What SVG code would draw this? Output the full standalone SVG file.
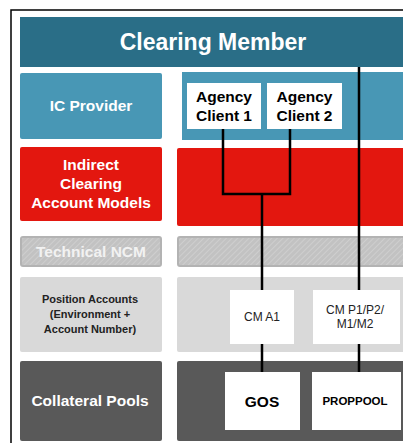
<svg xmlns="http://www.w3.org/2000/svg" width="403" height="443" viewBox="0 0 403 443">
<defs>
<pattern id="hatch" width="4" height="4" patternUnits="userSpaceOnUse" patternTransform="rotate(45)">
<rect width="4" height="4" fill="#c2c2c2"/>
<line x1="0" y1="0" x2="0" y2="4" stroke="#d2d2d2" stroke-width="1.5"/>
</pattern>
<style>
text{font-family:"Liberation Sans",Arial,sans-serif;text-anchor:middle}
.b{font-weight:bold}
.w{fill:#ffffff}
.k{fill:#000000}
.cm{fill:#2a6e87}
.ic{fill:#4897b5}
.red{fill:#e3170f}
.tn{fill:url(#hatch);stroke:#b3b3b3;stroke-width:2}
.pa{fill:#d9d9d9}
.dk{fill:#595959}
.box{fill:#ffffff}
.con{stroke:#000;stroke-width:2.5;fill:none;stroke-linecap:butt;stroke-linejoin:miter}
</style>
</defs>
<rect width="403" height="443" fill="#ffffff"/>
<rect x="11" y="10" width="420" height="460" fill="none" stroke="#000" stroke-width="1.5"/>
<g id="clearing-member">
<rect class="cm" x="20" y="17" width="390" height="50"/>
<text class="b w" x="213" y="50" font-size="23">Clearing Member</text>
</g>
<g id="row-labels">
<g id="ic-provider"><rect class="ic" x="20" y="73" width="142" height="66" rx="2"/><text class="b w" x="91" y="111" font-size="15.5">IC Provider</text></g>
<g id="icam"><rect class="red" x="20" y="147" width="142" height="74" rx="2"/>
<text class="b w" font-size="15.5"><tspan x="91" y="170">Indirect</tspan><tspan x="91" y="189">Clearing</tspan><tspan x="91" y="208">Account Models</tspan></text></g>
<g id="technical-ncm"><rect class="tn" x="21" y="237" width="140" height="29" rx="2"/><text class="b" fill="#f2f2f2" x="91" y="257" font-size="15.5">Technical NCM</text></g>
<g id="position-accounts"><rect class="pa" x="20" y="277" width="142" height="75" rx="2"/>
<text class="b" fill="#222" font-size="11"><tspan x="90" y="303">Position Accounts</tspan><tspan x="90" y="318">(Environment +</tspan><tspan x="90" y="333">Account Number)</tspan></text></g>
<g id="collateral-pools"><rect class="dk" x="20" y="361" width="142" height="80" rx="2"/><text class="b w" x="90" y="406" font-size="15.5">Collateral Pools</text></g>
</g>
<g id="panels">
<rect class="ic" x="182" y="72" width="230" height="68"/>
<rect class="red" x="177" y="148" width="235" height="78" rx="2"/>
<rect class="tn" x="178" y="237" width="235" height="29" rx="2"/>
<rect class="pa" x="177" y="277" width="235" height="75" rx="2"/>
<rect class="dk" x="177" y="361" width="235" height="80" rx="2"/>
</g>
<g id="connectors">
<path class="con" d="M359 67V372"/>
<path class="con" d="M223 129V194H290V129"/>
<path class="con" d="M262 194V372"/>
</g>
<g id="agency-client-1"><rect class="box" x="187" y="83" width="74" height="46"/><text class="b k" font-size="15.5"><tspan x="224" y="102">Agency</tspan><tspan x="224" y="121">Client 1</tspan></text></g>
<g id="agency-client-2"><rect class="box" x="267" y="83" width="75" height="46"/><text class="b k" font-size="15.5"><tspan x="304.5" y="102">Agency</tspan><tspan x="304.5" y="121">Client 2</tspan></text></g>
<g id="cm-a1"><rect class="box" x="230" y="290" width="64" height="54"/><text fill="#222" x="262" y="321" font-size="12">CM A1</text></g>
<g id="cm-p1"><rect class="box" x="313" y="290" width="87" height="54"/><text fill="#222" font-size="12"><tspan x="355" y="314">CM P1/P2/</tspan><tspan x="355" y="328">M1/M2</tspan></text></g>
<g id="gos"><rect class="box" x="225" y="372" width="75" height="58"/><text class="b k" x="262" y="407" font-size="15.5">GOS</text></g>
<g id="proppool"><rect class="box" x="312" y="372" width="89" height="58"/><text class="b k" x="355" y="405" font-size="11.5">PROPPOOL</text></g>
</svg>
